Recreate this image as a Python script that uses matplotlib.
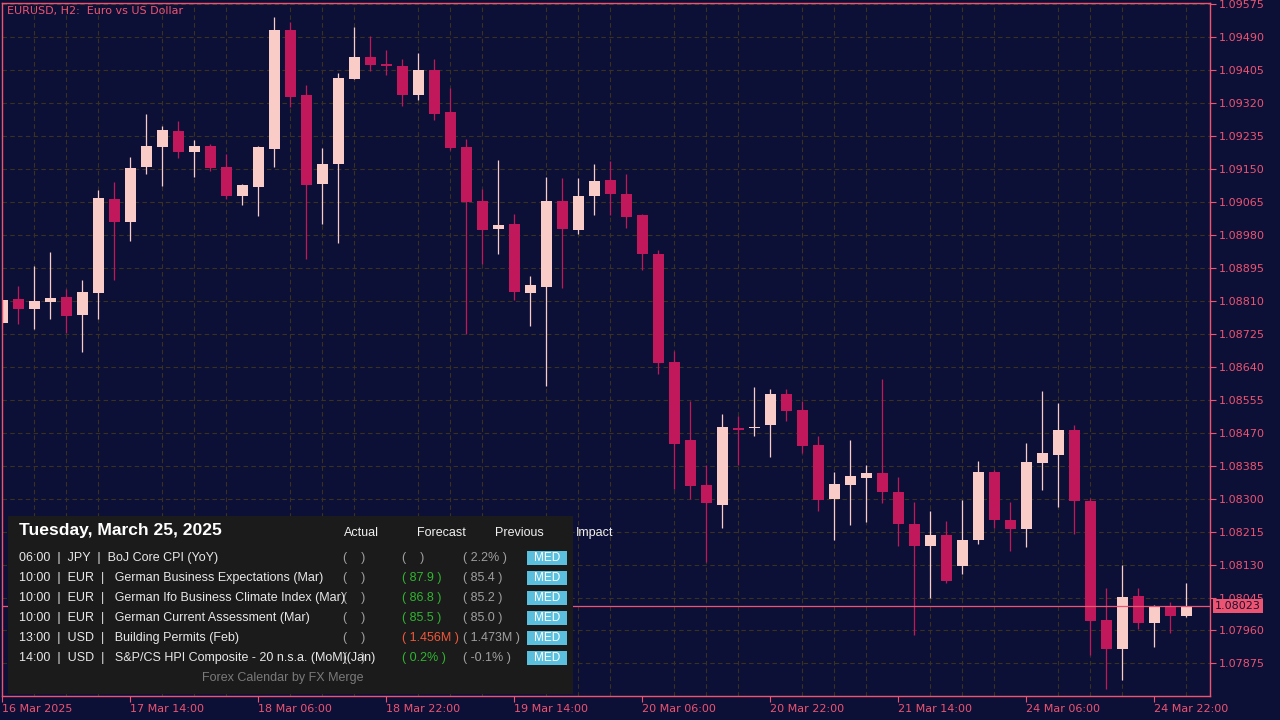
import matplotlib.pyplot as plt
from matplotlib.patches import Rectangle

# EURUSD H2 candles (oldest -> newest)
opens = [1.08754, 1.08815, 1.08789, 1.08807, 1.08820, 1.08773, 1.08830, 1.09073, 1.09014, 1.09156,
         1.09208, 1.09248, 1.09195, 1.09210, 1.09155, 1.09081, 1.09105, 1.09203, 1.09509, 1.09341,
         1.09112, 1.09164, 1.09383, 1.09439, 1.09418, 1.09416, 1.09342, 1.09406, 1.09297, 1.09207,
         1.09068, 1.08996, 1.09008, 1.08831, 1.08846, 1.09068, 1.08994, 1.09081, 1.09122, 1.09086,
         1.09031, 1.08931, 1.08652, 1.08451, 1.08335, 1.08284, 1.08480, 1.08481, 1.08490, 1.08570,
         1.08528, 1.08438, 1.08300, 1.08335, 1.08353, 1.08366, 1.08317, 1.08235, 1.08178, 1.08206,
         1.08127, 1.08194, 1.08369, 1.08245, 1.08222, 1.08393, 1.08413, 1.08477, 1.08294, 1.07987,
         1.07913, 1.08049, 1.07980, 1.08023, 1.07998]
highs = [1.08812, 1.08849, 1.08901, 1.08937, 1.08841, 1.08865, 1.09096, 1.09117, 1.09181, 1.09292,
         1.09261, 1.09274, 1.09225, 1.09215, 1.09189, 1.09112, 1.09210, 1.09542, 1.09529, 1.09367,
         1.09204, 1.09398, 1.09517, 1.09493, 1.09457, 1.09434, 1.09450, 1.09434, 1.09359, 1.09228,
         1.09099, 1.09173, 1.09034, 1.08874, 1.09130, 1.09127, 1.09127, 1.09163, 1.09171, 1.09137,
         1.09033, 1.08941, 1.08681, 1.08552, 1.08386, 1.08518, 1.08512, 1.08587, 1.08584, 1.08582,
         1.08552, 1.08461, 1.08369, 1.08451, 1.08386, 1.08608, 1.08356, 1.08291, 1.08268, 1.08242,
         1.08296, 1.08397, 1.08374, 1.08291, 1.08443, 1.08577, 1.08547, 1.08490, 1.08302, 1.08069,
         1.08129, 1.08069, 1.08025, 1.08033, 1.08082]
lows = [1.08753, 1.08751, 1.08737, 1.08763, 1.08727, 1.08679, 1.08763, 1.08864, 1.08965, 1.09137,
        1.09106, 1.09179, 1.09130, 1.09145, 1.09073, 1.09057, 1.09029, 1.09156, 1.09310, 1.08918,
        1.09008, 1.08959, 1.09383, 1.09404, 1.09393, 1.09314, 1.09329, 1.09277, 1.09200, 1.08725,
        1.08906, 1.08932, 1.08813, 1.08746, 1.08591, 1.08844, 1.08983, 1.09032, 1.09032, 1.08999,
        1.08890, 1.08622, 1.08325, 1.08300, 1.08137, 1.08225, 1.08386, 1.08461, 1.08407, 1.08501,
        1.08418, 1.08269, 1.08194, 1.08233, 1.08240, 1.08289, 1.08178, 1.07949, 1.08044, 1.08083,
        1.08106, 1.08183, 1.08225, 1.08165, 1.08176, 1.08323, 1.08279, 1.08209, 1.07897, 1.07809,
        1.07833, 1.07964, 1.07918, 1.07954, 1.07995]
closes = [1.08812, 1.08789, 1.08810, 1.08818, 1.08772, 1.08833, 1.09075, 1.09014, 1.09153, 1.09210,
          1.09251, 1.09195, 1.09210, 1.09154, 1.09081, 1.09109, 1.09207, 1.09509, 1.09337, 1.09110,
          1.09163, 1.09385, 1.09439, 1.09419, 1.09416, 1.09342, 1.09406, 1.09293, 1.09205, 1.09066,
          1.08994, 1.09006, 1.08834, 1.08851, 1.09068, 1.08996, 1.09081, 1.09119, 1.09087, 1.09027,
          1.08932, 1.08650, 1.08442, 1.08333, 1.08289, 1.08485, 1.08478, 1.08483, 1.08570, 1.08527,
          1.08436, 1.08297, 1.08338, 1.08358, 1.08366, 1.08317, 1.08235, 1.08178, 1.08206, 1.08088,
          1.08193, 1.08369, 1.08245, 1.08222, 1.08394, 1.08418, 1.08477, 1.08294, 1.07985, 1.07913,
          1.08046, 1.07980, 1.08023, 1.07998, 1.08023]

last_price = 1.08023

tick_pos = [0, 8, 16, 24, 32, 40, 48, 56, 64, 72]
tick_labels = ["16 Mar 2025", "17 Mar 14:00", "18 Mar 06:00", "18 Mar 22:00", "19 Mar 14:00",
               "20 Mar 06:00", "20 Mar 22:00", "21 Mar 14:00", "24 Mar 06:00", "24 Mar 22:00"]
price_ticks = [1.07875 + 0.00085 * k for k in range(21)]

# economic calendar panel
cal_title = "Tuesday, March 25, 2025"
cal_headers = ["Actual", "Forecast", "Previous", "Impact"]
cal_times = ["06:00", "10:00", "10:00", "10:00", "13:00", "14:00"]
cal_ccy = ["JPY", "EUR", "EUR", "EUR", "USD", "USD"]
cal_events = ["BoJ Core CPI (YoY)",
              " German Business Expectations (Mar)",
              " German Ifo Business Climate Index (Mar)",
              " German Current Assessment (Mar)",
              " Building Permits (Feb)",
              " S&P/CS HPI Composite - 20 n.s.a. (MoM)(Jan)"]
cal_actual = ["", "", "", "", "", ""]
cal_forecast = ["", "87.9", "86.8", "85.5", "1.456M", "0.2%"]
cal_fc_color = ["#a0a0a0", "#2fb52f", "#2fb52f", "#2fb52f", "#f0583c", "#2fb52f"]
cal_previous = ["2.2%", "85.4", "85.2", "85.0", "1.473M", "-0.1%"]
cal_impact = ["MED", "MED", "MED", "MED", "MED", "MED"]

bg = "#0d1036"
pink = "#ec5472"
bull = "#f9ccc8"
bear = "#c0185a"
gridc = "#3a3220"

fig = plt.figure(figsize=(12.8, 7.2), dpi=100, facecolor=bg)
ax = fig.add_axes([2 / 1280, 24 / 720, 1208 / 1280, 693 / 720], facecolor=bg)

idx = list(range(len(opens)))
colors = [bull if c >= o else bear for o, c in zip(opens, closes)]
bottoms = [min(o, c) for o, c in zip(opens, closes)]
heights = [max(abs(c - o), 0.00004) for o, c in zip(opens, closes)]

ax.vlines(idx, lows, highs, colors=colors, linewidth=0.9, zorder=2)
ax.bar(idx, heights, bottom=bottoms, width=0.69, color=colors, linewidth=0, zorder=2.1)

ax.axhline(last_price, color=pink, lw=0.9, zorder=3)

ax.set_xlim(-0.02, 75.48)
ax.set_ylim(1.07791, 1.095785)

ax.set_yticks(price_ticks)
ax.set_yticklabels([f"{p:.5f}" for p in price_ticks])
ax.yaxis.tick_right()
ax.set_xticks(tick_pos)
ax.set_xticklabels(tick_labels, ha="left")
ax.set_xticks(range(0, 76, 2), minor=True)

ax.tick_params(axis="both", which="major", colors=pink, labelsize=8, length=4, width=0.8)
ax.tick_params(axis="y", pad=2)
ax.tick_params(axis="x", pad=2)
ax.tick_params(axis="x", which="minor", length=0)

ax.set_axisbelow(True)
ax.yaxis.grid(True, which="major", color=gridc, linestyle=(0, (4, 3)), lw=0.8)
ax.xaxis.grid(True, which="minor", color=gridc, linestyle=(0, (4, 3)), lw=0.8)
ax.xaxis.grid(False, which="major")

for s in ax.spines.values():
    s.set_color(pink)
    s.set_linewidth(1)

# last price tag on the price scale
ax.text(1.0 + 5 / 1208, last_price, f"{last_price:.5f}", transform=ax.get_yaxis_transform(),
        ha="left", va="center", fontsize=8, color="#1a1030", clip_on=False, zorder=10,
        bbox=dict(boxstyle="square,pad=0.22", fc=pink, ec="none"))

fig.text(7 / 1280, 1 - 11 / 720, "EURUSD, H2:  Euro vs US Dollar", color=pink, fontsize=8,
         va="center", ha="left")


def fx(x):
    return x / 1280


def fy(y):
    return 1 - y / 720


# calendar panel
fig.add_artist(Rectangle((fx(8), fy(694)), fx(573) - fx(8), fy(516) - fy(694),
                         transform=fig.transFigure, fc="#1b1b1b", ec="none", zorder=5))
fam = ["Liberation Sans", "DejaVu Sans"]
fig.text(fx(19), fy(531), cal_title, color="white", fontsize=12.6, fontweight="bold",
         family=fam, va="center", ha="left", zorder=6)
for h, x in zip(cal_headers, [361, 441, 519, 595]):
    fig.text(fx(x), fy(533), h, color="#f0f0f0", fontsize=9, family=fam,
             va="center", ha="center", zorder=6)

for i in range(len(cal_times)):
    y = 558 + 20 * i
    fig.text(fx(19), fy(y), f"{cal_times[i]}  |  {cal_ccy[i]}  |  {cal_events[i]}",
             color="#e8e8e8", fontsize=9, family=fam, va="center", ha="left", zorder=6)
    a = f"( {cal_actual[i]} )" if cal_actual[i] else "(    )"
    fig.text(fx(343), fy(y), a, color="#a0a0a0", fontsize=9, family=fam,
             va="center", ha="left", zorder=6)
    if cal_forecast[i]:
        fig.text(fx(402), fy(y), f"( {cal_forecast[i]} )", color=cal_fc_color[i], fontsize=9,
                 family=fam, va="center", ha="left", zorder=6)
    else:
        fig.text(fx(402), fy(y), "(    )", color="#a0a0a0", fontsize=9, family=fam,
                 va="center", ha="left", zorder=6)
    fig.text(fx(463), fy(y), f"( {cal_previous[i]} )", color="#a0a0a0", fontsize=9,
             family=fam, va="center", ha="left", zorder=6)
    fig.add_artist(Rectangle((fx(527), fy(y + 7)), fx(567) - fx(527), fy(y - 7) - fy(y + 7),
                             transform=fig.transFigure, fc="#5bc0de", ec="none", zorder=6))
    fig.text(fx(547), fy(y), cal_impact[i], color="white", fontsize=8.5, family=fam,
             va="center", ha="center", zorder=7)

fig.text(fx(283), fy(678), "Forex Calendar by FX Merge", color="#7a7a7a", fontsize=9,
         family=fam, va="center", ha="center", zorder=6)

fig.savefig("out.png", dpi=100, facecolor=bg)
